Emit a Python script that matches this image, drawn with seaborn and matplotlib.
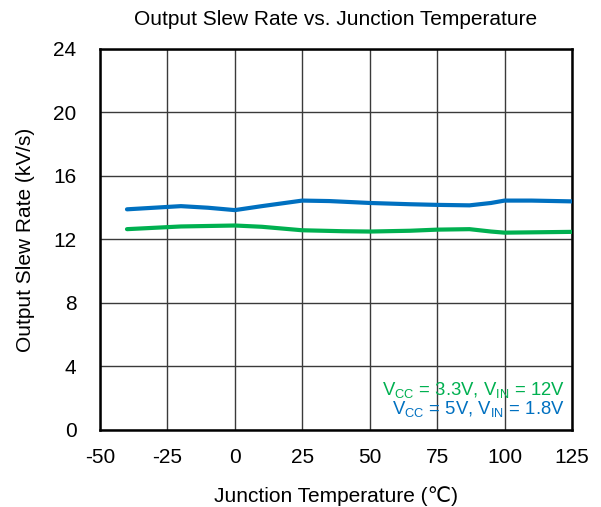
import pandas as pd
import seaborn as sns
import matplotlib.pyplot as plt

# junction temperature (C) and slew rate (kV/s)
temp_blue = [-40, -30, -20, -10, 0, 10, 25, 35, 50, 65, 75, 87, 95, 100, 110, 125]
slew_blue = [13.9, 14.0, 14.1, 14.0, 13.85, 14.1, 14.45, 14.42, 14.3, 14.22, 14.18, 14.15, 14.3, 14.45, 14.45, 14.4]
temp_green = [-40, -20, 0, 10, 25, 40, 50, 65, 75, 87, 95, 100, 110, 125]
slew_green = [12.65, 12.82, 12.88, 12.8, 12.58, 12.52, 12.5, 12.55, 12.62, 12.65, 12.5, 12.43, 12.45, 12.48]

x_ticks = [-50, -25, 0, 25, 50, 75, 100, 125]
y_ticks = [0, 4, 8, 12, 16, 20, 24]

df_blue = pd.DataFrame({'Temp': temp_blue, 'Slew': slew_blue})
df_green = pd.DataFrame({'Temp': temp_green, 'Slew': slew_green})

sns.set_style('white')
plt.rcParams['font.family'] = ['Liberation Sans', 'DejaVu Sans']
plt.rcParams['mathtext.fontset'] = 'custom'
plt.rcParams['mathtext.rm'] = 'Liberation Sans'
plt.rcParams['axes.unicode_minus'] = False
plt.rcParams['text.color'] = 'black'
plt.rcParams['axes.labelcolor'] = 'black'
plt.rcParams['xtick.color'] = 'black'
plt.rcParams['ytick.color'] = 'black'

fig = plt.figure(figsize=(6.01, 5.07), dpi=100)
ax = fig.add_axes([0.1664, 0.1519, 0.7853, 0.7515])

for v in x_ticks:
    ax.axvline(v, color='#3a3a3a', lw=1, zorder=1)
for v in y_ticks:
    ax.axhline(v, color='#3a3a3a', lw=1, zorder=1)

sns.lineplot(data=df_green, x='Temp', y='Slew', color='#00B050', lw=3, ax=ax, zorder=3)
sns.lineplot(data=df_blue, x='Temp', y='Slew', color='#0070C0', lw=3, ax=ax, zorder=3)

ax.set_xlim(-50, 125)
ax.set_ylim(0, 24)
ax.set_xticks(x_ticks)
ax.set_yticks(y_ticks)
ax.tick_params(labelsize=15, length=0)
ax.tick_params(axis='x', pad=13)
ax.tick_params(axis='y', pad=17)
for s in ax.spines.values():
    s.set_color('black')
    s.set_linewidth(1.8)

ax.set_title('Output Slew Rate vs. Junction Temperature', fontsize=15, pad=17)
ax.set_xlabel('Junction Temperature (\u2103)', fontsize=15, labelpad=14)
ax.set_ylabel('Output Slew Rate (kV/s)', fontsize=15, labelpad=13)

ax.text(0.985, 0.105, r'V$_{\mathregular{CC}}$ = 3.3V, V$_{\mathregular{IN}}$ = 12V',
        color='#00B050', fontsize=13.3, ha='right', va='center', transform=ax.transAxes)
ax.text(0.985, 0.055, r'V$_{\mathregular{CC}}$ = 5V, V$_{\mathregular{IN}}$ = 1.8V',
        color='#0070C0', fontsize=13.3, ha='right', va='center', transform=ax.transAxes)

plt.savefig('out.png', dpi=100)
